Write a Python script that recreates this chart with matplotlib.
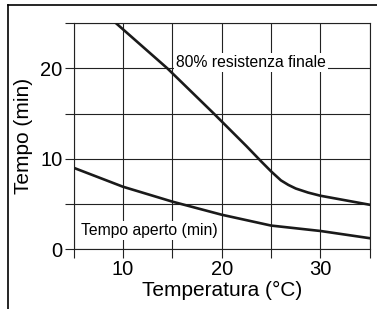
import matplotlib
matplotlib.use("Agg")
import matplotlib.pyplot as plt
from matplotlib.lines import Line2D
from matplotlib.ticker import MultipleLocator, FuncFormatter

plt.rcParams['font.family'] = ['Liberation Sans', 'DejaVu Sans']

# data
temp_res = [9.3, 14.5, 19.2, 22.5, 24, 25, 26, 26.75, 27.5, 28.75, 30, 32.5, 35]
res_80 = [25, 20, 15, 11.4, 9.7, 8.6, 7.6, 7.1, 6.7, 6.25, 5.9, 5.4, 4.9]

temp_open = [5, 10, 15, 20, 25, 30, 35]
open_time = [9.0, 6.9, 5.25, 3.8, 2.6, 2.0, 1.2]

fig = plt.figure(figsize=(3.77, 3.09), dpi=100)
ax = fig.add_axes([0.195, 0.194, 0.786, 0.731])

ax.plot(temp_res, res_80, color='#1a1a1a', lw=1.9, zorder=3, solid_joinstyle='round')
ax.plot(temp_open, open_time, color='#1a1a1a', lw=1.9, zorder=3, solid_joinstyle='round')

ax.set_xlim(5, 35)
ax.set_ylim(0, 25)
ax.xaxis.set_major_locator(MultipleLocator(5))
ax.yaxis.set_major_locator(MultipleLocator(5))
ax.yaxis.set_major_formatter(FuncFormatter(lambda v, p: f"{v:.0f}" if v % 10 == 0 else ""))
ax.xaxis.set_major_formatter(FuncFormatter(lambda v, p: f"{v:.0f}" if v % 10 == 0 and v > 5 else ""))

ax.grid(True, color='#222222', lw=0.8)
for s in ax.spines.values():
    s.set_color('#222222')
    s.set_linewidth(0.8)
ax.tick_params(length=6.5, width=0.8, color='#222222', labelsize=14.5, pad=1.5)

ax.set_xlabel("Temperatura (°C)", fontsize=15, labelpad=1)
ax.set_ylabel("Tempo (min)", fontsize=15, labelpad=5)

box = dict(facecolor='white', edgecolor='none', pad=1.5)
ax.text(15.4, 20.6, "80% resistenza finale", fontsize=11.3, va='center', ha='left', bbox=box, zorder=4)
ax.text(5.8, 2.1, "Tempo aperto (min)", fontsize=11.3, va='center', ha='left', bbox=box, zorder=4)

# outer frame (partially cropped in original)
fx = 7.5 / 377
fy = 1 - 4.5 / 309
fig.add_artist(Line2D([fx, fx], [0, fy], color='black', lw=1.2))
fig.add_artist(Line2D([fx, 1], [fy, fy], color='black', lw=1.2))

fig.savefig("out.png", dpi=100)
